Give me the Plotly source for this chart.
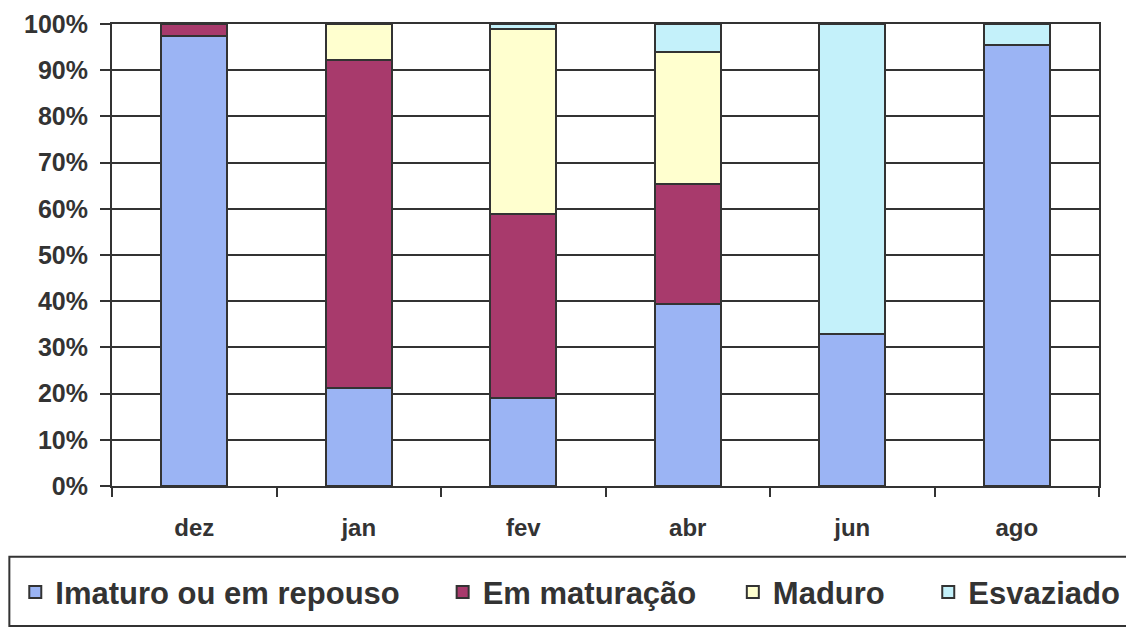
import plotly.graph_objects as go

months = ["dez", "jan", "fev", "abr", "jun", "ago"]
imaturo = [97.3, 21.2, 19.0, 39.4, 32.8, 95.4]
em_maturacao = [2.7, 71.0, 39.8, 25.9, 0.0, 0.0]
maduro = [0.0, 7.8, 40.2, 28.7, 0.0, 0.0]
esvaziado = [0.0, 0.0, 1.0, 6.0, 67.2, 4.6]

series = [
    ("Imaturo ou em repouso", imaturo, "#9bb4f4"),
    ("Em maturação", em_maturacao, "#a83a6c"),
    ("Maduro", maduro, "#ffffcf"),
    ("Esvaziado", esvaziado, "#c4f1fa"),
]
# one legend per entry so the spacing can follow the original
legend_x = [-0.098, 0.335, 0.629, 0.827]

fig = go.Figure()
for i, (name, vals, col) in enumerate(series):
    lg = "legend" if i == 0 else f"legend{i + 1}"
    fig.add_trace(go.Bar(
        x=months, y=vals, name=f"<b>{name}</b>", legend=lg,
        marker=dict(color=col, line=dict(color="#333333", width=2)),
    ))

legend_style = dict(
    orientation="h", y=-0.23, xanchor="left", yanchor="middle",
    font=dict(size=31, color="#333333"), itemwidth=30,
    bgcolor="rgba(0,0,0,0)",
)
fig.update_layout(
    barmode="stack",
    bargap=0.6,
    width=1134, height=628,
    margin=dict(l=104, r=43, t=16, b=150, autoexpand=False),
    paper_bgcolor="white",
    plot_bgcolor="white",
    font=dict(family="Liberation Sans, Arial, sans-serif", color="#333333"),
    legend=dict(x=legend_x[0], **legend_style),
    legend2=dict(x=legend_x[1], **legend_style),
    legend3=dict(x=legend_x[2], **legend_style),
    legend4=dict(x=legend_x[3], **legend_style),
    showlegend=True,
)

fig.update_yaxes(
    range=[0, 100],
    tickvals=list(range(0, 101, 10)),
    ticktext=[f"<b>{v}%</b>" for v in range(0, 101, 10)],
    tickfont=dict(size=25, color="#333333"),
    ticklabelstandoff=7,
    ticklabeloverflow="allow",
    showgrid=True, gridcolor="#333333", gridwidth=2,
    showline=True, linecolor="#333333", linewidth=2, mirror=True,
    ticks="outside", ticklen=10, tickcolor="#333333", tickwidth=2,
    zeroline=False,
)
fig.update_xaxes(
    tickvals=months,
    ticktext=[f"<b>{m}</b>" for m in months],
    tickfont=dict(size=24, color="#333333"),
    ticklabelstandoff=19,
    showline=True, linecolor="#333333", linewidth=2, mirror=True,
    ticks="outside", ticklen=9, tickcolor="#333333", tickwidth=2,
    tickson="boundaries",
    showgrid=False,
)

# legend frame
fig.add_shape(
    type="rect", xref="paper", yref="paper",
    x0=-0.104, x1=1.06, y0=-0.303, y1=-0.153,
    line=dict(color="#333333", width=2),
)

fig.write_html("out.html")
